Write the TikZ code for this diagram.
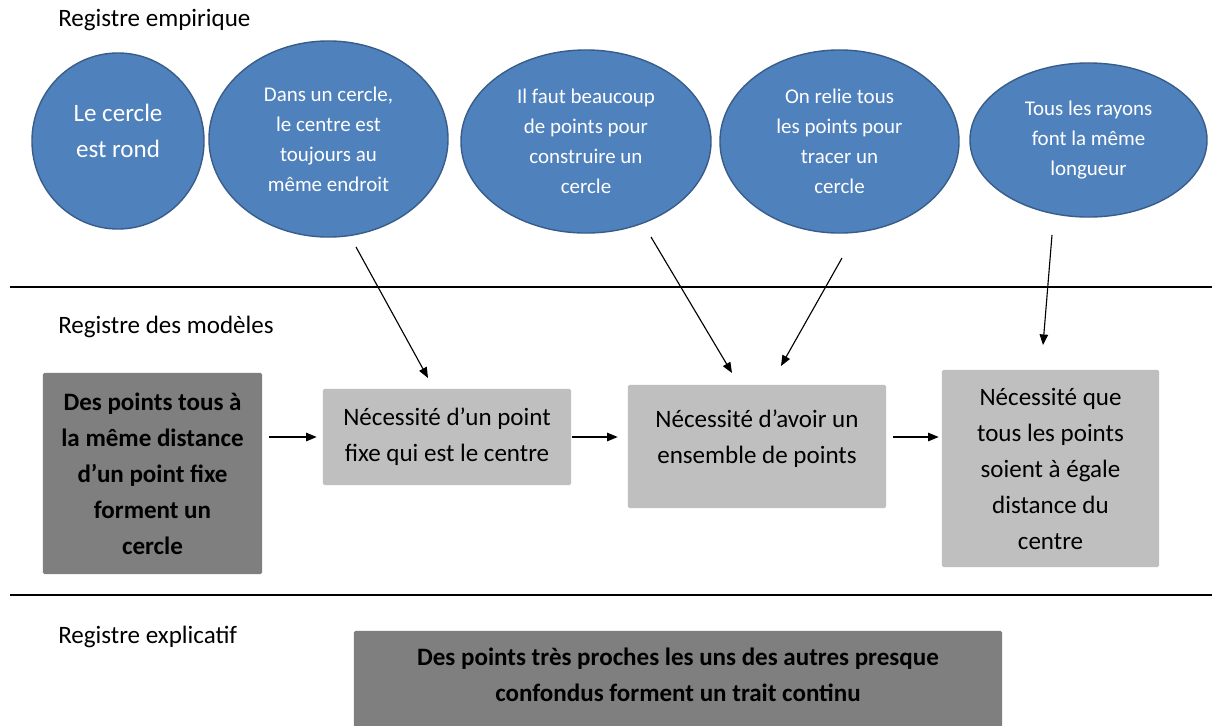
\documentclass[tikz,border=0pt]{standalone}
\usepackage{fontspec}
\setmainfont{Carlito}
\usetikzlibrary{shapes.geometric,arrows.meta}
\definecolor{bulle}{HTML}{4F81BD}
\definecolor{bullebord}{HTML}{385D8A}
\definecolor{grisfonce}{HTML}{7F7F7F}
\definecolor{grisclair}{HTML}{BFBFBF}
\tikzset{
  bulle/.style={ellipse,draw=bullebord,line width=1pt,fill=bulle,text=white,inner sep=0pt,align=center,font=\fontsize{14.9}{21.3}\selectfont},
  boite/.style={rectangle,fill=grisclair,rounded corners=1pt,inner sep=0pt,align=center,font=\fontsize{17.8}{25.6}\selectfont},
  boitegras/.style={boite,fill=grisfonce,font=\fontsize{17.8}{25.6}\selectfont\bfseries},
  registre/.style={anchor=west,inner sep=0pt,font=\fontsize{17.8}{21.7}\selectfont},
  fleche/.style={->,line width=0.8pt}
}
\begin{document}
\begin{tikzpicture}[>={Triangle[length=7.5pt,width=6pt]},x=0.025cm,y=-0.025cm]
	\clip (0,0) rectangle (1212,725);
	\fill[white] (0,0) rectangle (1212,725);
	% les trois registres
	\node[registre] (emp) at (58,20) {Registre empirique};
	\node[registre] (mod) at (58,327) {Registre des modèles};
	\node[registre] (exp) at (58,637) {Registre explicatif};
	\draw[line width=1pt] (10,287) -- (1212,287);
	\draw[line width=1pt] (10,595) -- (1212,595);
	% bulles
	\node[bulle,minimum width=4.3cm,minimum height=4.4cm,
		label={[name=e1t,text=white,align=center,font=\fontsize{17.8}{25.6}\selectfont,yshift=0.25cm]center:Le cercle\\est rond}] (e1) at (118,141) {};
	\node[bulle,minimum width=5.975cm,minimum height=4.9cm] (e2) at (328.5,139) {Dans un cercle,\\le centre est\\toujours au\\même endroit};
	\node[bulle,minimum width=6.25cm,minimum height=4.575cm] (e3) at (586,141.5) {Il faut beaucoup\\de points pour\\construire un\\cercle};
	\node[bulle,minimum width=5.975cm,minimum height=4.575cm] (e4) at (839.5,141.5) {On relie tous\\les points pour\\tracer un\\cercle};
	\node[bulle,minimum width=5.925cm,minimum height=3.85cm] (e5) at (1088.5,140) {Tous les rayons\\font la même\\longueur};
	% boites
	\node[boitegras,minimum width=5.475cm,minimum height=5.025cm] (A) at (152.5,473.5) {Des points tous à\\la même distance\\d’un point fixe\\forment un\\cercle};
	\node[boite,minimum width=6.2cm,minimum height=2.4cm] (B) at (447,437) {Nécessité d’un point\\fixe qui est le centre};
	\node[boite,minimum width=6.45cm,minimum height=3.075cm,
		label={[name=Ct,align=center,font=\fontsize{17.8}{25.6}\selectfont,yshift=0.2cm]center:Nécessité d’avoir un\\ensemble de points}] (C) at (757,446.5) {};
	\node[boite,minimum width=5.425cm,minimum height=4.925cm] (D) at (1050.5,468.5) {Nécessité que\\tous les points\\soient à égale\\distance du\\centre};
	\node[boitegras,minimum width=16.2cm,minimum height=2.6cm,
		label={[name=Et,align=center,font=\fontsize{17.8}{25.6}\selectfont\bfseries,yshift=0.2cm]center:Des points très proches les uns des autres presque\\confondus forment un trait continu}] (E) at (678,683) {};
	% fleches
	\coordinate (d2) at (356,247); \coordinate (f2) at (428,378);
	\coordinate (d3) at (651,237); \coordinate (f3) at (732,373);
	\coordinate (d4) at (842,258); \coordinate (f4) at (781,366);
	\coordinate (d5) at (1052,235); \coordinate (f5) at (1043,345);
	\draw[fleche] (d2) -- (f2);
	\draw[fleche] (d3) -- (f3);
	\draw[fleche] (d4) -- (f4);
	\draw[fleche] (d5) -- (f5);
	\draw[fleche] ([xshift=0.175cm]A.east |- B.west) -- ([xshift=-0.15cm]B.west);
	\draw[fleche] ([xshift=0.025cm]B.east) -- ([xshift=-0.25cm]B.east -| C.west);
	\draw[fleche] ([xshift=0.175cm]C.east |- B.east) -- ([xshift=-0.075cm]B.east -| D.west);
\end{tikzpicture}
\end{document}
